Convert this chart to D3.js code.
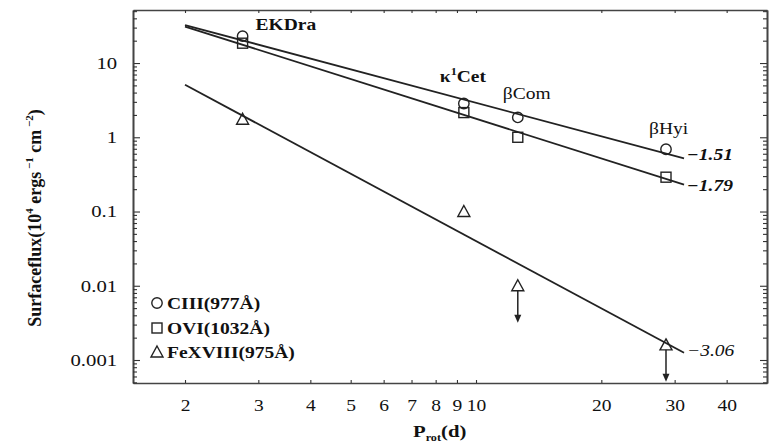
<!DOCTYPE html>
<html><head><meta charset="utf-8">
<script src="https://cdn.jsdelivr.net/npm/d3@7"></script>
<style>body{margin:0;background:#fff}text{font-family:"Liberation Serif","Times New Roman",serif;fill:#111}</style>
</head><body>
<svg id="c" width="770" height="445"></svg>
<script>
// ---- data ----
const stars = ["EKDra", "κ¹Cet", "βCom", "βHyi"];
const periods = [2.75, 9.35, 12.6, 28.6];
const ciii = [23, 2.85, 1.85, 0.69];
const ovi = [18.5, 2.15, 1.0, 0.29];
const fexviii = [1.75, 0.1, 0.01, 0.0016];
const fexviiiUpper = [false, false, true, true];
const fitNames = ["CIII", "OVI", "FeXVIII"];
const fitSlopeLabels = ["−1.51", "−1.79", "−3.06"];
const fitP = [2, 31.6];
const fitCiii = [32.5, 0.52];
const fitOvi = [31, 0.23];
const fitFe = [5.1, 0.00125];
const xTicks = [2, 3, 4, 5, 6, 7, 8, 9, 10, 20, 30, 40];
const yTicks = [0.001, 0.01, 0.1, 1, 10];
const yTickLabels = ["0.001", "0.01", "0.1", "1", "10"];
const legendLabels = ["CIII(977Å)", "OVI(1032Å)", "FeXVIII(975Å)"];

// ---- layout ----
const L = 133, R = 767, T = 10, B = 383, SX = 1.22;
const svg = d3.select("#c");
const x = d3.scaleLog().domain([1.5, 50]).range([L, R]);
const y = d3.scaleLog().domain([0.00049, 51.8]).range([B, T]);

// minor y ticks
const yMinor = [];
for (let e = -4; e <= 1; e++) for (let m = 2; m <= 9; m++) {
  const v = m * Math.pow(10, e);
  if (v > 0.00049 && v < 51.8) yMinor.push(v);
}

const ink = "#222";
function styleAxis(g) {
  g.selectAll("path.domain").attr("stroke", "#444").attr("stroke-width", 1.6);
  g.selectAll(".tick line").attr("stroke", "#333").attr("stroke-width", 1.1);
  g.selectAll("text").attr("font-family", "Liberation Serif").attr("fill", "#111");
}

// bottom
const gb = svg.append("g").attr("transform", `translate(0,${B})`)
  .call(d3.axisBottom(x).tickValues(xTicks).tickFormat(d3.format("d")).tickSizeInner(-3).tickSizeOuter(0).tickPadding(17));
styleAxis(gb);
gb.selectAll("text").attr("font-size", 16).attr("transform", `scale(${SX},1)`);
// top
const gt = svg.append("g").attr("transform", `translate(0,${T})`)
  .call(d3.axisTop(x).tickValues(xTicks).tickFormat("").tickSizeInner(-3).tickSizeOuter(0));
styleAxis(gt);
// left
const gl = svg.append("g").attr("transform", `translate(${L},0)`)
  .call(d3.axisLeft(y).tickValues(yTicks).tickFormat((d, i) => yTickLabels[i]).tickSizeInner(-7).tickSizeOuter(0).tickPadding(13));
styleAxis(gl);
gl.selectAll("text").attr("font-size", 17).attr("transform", `scale(${SX},1)`);
const glm = svg.append("g").attr("transform", `translate(${L},0)`)
  .call(d3.axisLeft(y).tickValues(yMinor).tickFormat("").tickSizeInner(-4).tickSizeOuter(0));
styleAxis(glm);
// right
const gr = svg.append("g").attr("transform", `translate(${R},0)`)
  .call(d3.axisRight(y).tickValues(yTicks).tickFormat("").tickSizeInner(-7).tickSizeOuter(0));
styleAxis(gr);
const grm = svg.append("g").attr("transform", `translate(${R},0)`)
  .call(d3.axisRight(y).tickValues(yMinor).tickFormat("").tickSizeInner(-4).tickSizeOuter(0));
styleAxis(grm);

// text helper
function txt(px, py, s, o = {}) {
  const t = svg.append("text")
    .attr("transform", `translate(${px},${py}) scale(${o.sx ?? SX},1)` + (o.rot ? ` rotate(${o.rot})` : ""))
    .attr("font-size", o.size || 16)
    .attr("font-weight", o.bold ? "bold" : "normal")
    .attr("font-style", o.italic ? "italic" : "normal")
    .attr("text-anchor", o.anchor || "start")
    .text(s);
  return t;
}

// ---- fit lines ----
const line = d3.line().x(d => x(d[0])).y(d => y(d[1]));
[fitCiii, fitOvi, fitFe].forEach(f => {
  svg.append("path").attr("d", line(fitP.map((p, i) => [p, f[i]])))
    .attr("fill", "none").attr("stroke", ink).attr("stroke-width", 1.8);
});

// ---- markers ----
const mk = { fill: "none", stroke: ink, sw: 1.4 };
function circle(px, py) {
  svg.append("circle").attr("cx", px).attr("cy", py).attr("r", 5.2)
    .attr("fill", mk.fill).attr("stroke", mk.stroke).attr("stroke-width", mk.sw);
}
function square(px, py) {
  svg.append("rect").attr("x", px - 5).attr("y", py - 5).attr("width", 10).attr("height", 10)
    .attr("fill", mk.fill).attr("stroke", mk.stroke).attr("stroke-width", mk.sw);
}
function tri(px, py) {
  svg.append("path").attr("d", `M${px},${py - 6}L${px + 6},${py + 5}L${px - 6},${py + 5}Z`)
    .attr("fill", mk.fill).attr("stroke", mk.stroke).attr("stroke-width", mk.sw);
}
periods.forEach((p, i) => {
  circle(x(p), y(ciii[i]));
  square(x(p), y(ovi[i]));
  tri(x(p), y(fexviii[i]));
  if (fexviiiUpper[i]) {
    const px = x(p), y0 = y(fexviii[i]) + 5, y1 = y0 + 32;
    svg.append("line").attr("x1", px).attr("x2", px).attr("y1", y0).attr("y2", y1 - 6)
      .attr("stroke", ink).attr("stroke-width", 1.5);
    svg.append("path").attr("d", `M${px - 3.5},${y1 - 8}L${px + 3.5},${y1 - 8}L${px},${y1}Z`).attr("fill", ink);
  }
});

// ---- star labels ----
txt(x(periods[0]) + 13, 30, stars[0], { bold: true, size: 16 });
const kc = svg.append("text").attr("transform", `translate(${x(periods[1]) - 24},82) scale(${SX},1)`)
  .attr("font-size", 16).attr("font-weight", "bold");
kc.append("tspan").text("κ");
kc.append("tspan").attr("dy", -7).attr("font-size", 10).text("1");
kc.append("tspan").attr("dy", 7).text("Cet");
txt(x(periods[2]) - 15, 99, stars[2], { size: 16 });
txt(x(periods[3]) - 17, 134, stars[3], { size: 16 });

// ---- slope labels ----
txt(687, 160, fitSlopeLabels[0], { bold: true, italic: true, size: 16 });
txt(687, 191, fitSlopeLabels[1], { bold: true, italic: true, size: 16 });
txt(687, 356, fitSlopeLabels[2], { italic: true, size: 16 });

// ---- legend ----
const lx = 157, ly = [303, 328, 352];
circle(lx, ly[0]); square(lx, ly[1]); tri(lx, ly[2]);
legendLabels.forEach((s, i) => txt(lx + 10, ly[i] + 6, s, { bold: true, size: 16 }));

// ---- axis titles ----
const xt = svg.append("text").attr("transform", `translate(413,437) scale(${SX},1)`)
  .attr("font-size", 17).attr("font-weight", "bold");
xt.append("tspan").text("P");
xt.append("tspan").attr("dy", 4).attr("font-size", 10).text("rot");
xt.append("tspan").attr("dy", -4).text("(d)");

const yt = svg.append("text").attr("transform", `translate(41,218) rotate(-90)`)
  .attr("font-size", 18).attr("font-weight", "bold").attr("text-anchor", "middle");
yt.append("tspan").text("Surfaceflux(10");
yt.append("tspan").attr("dy", -8).attr("font-size", 11).text("4");
yt.append("tspan").attr("dy", 8).text(" ergs");
yt.append("tspan").attr("dy", -8).attr("font-size", 11).text(" −1");
yt.append("tspan").attr("dy", 8).text(" cm");
yt.append("tspan").attr("dy", -8).attr("font-size", 11).text(" −2");
yt.append("tspan").attr("dy", 8).text(")");
</script>
</body></html>
